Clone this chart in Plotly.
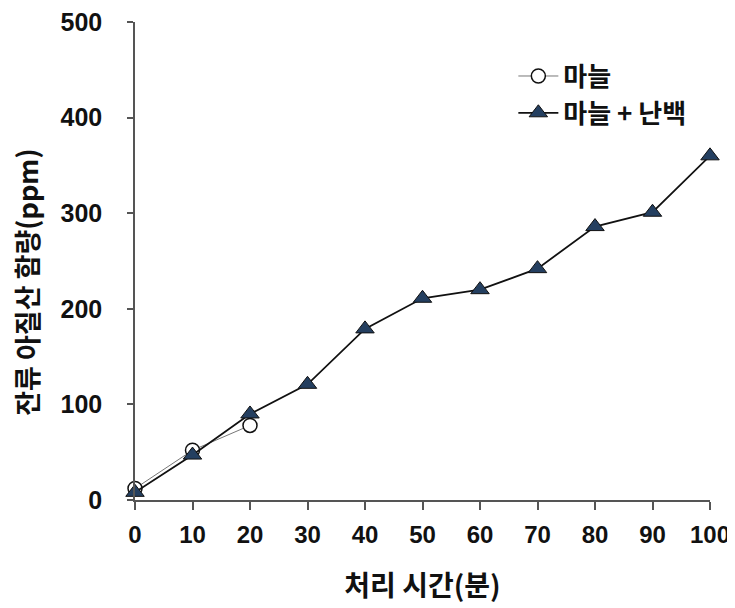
import plotly.graph_objects as go

x_garlic = [0, 10, 20]
y_garlic = [12, 52, 78]

x_mix = [0, 10, 20, 30, 40, 50, 60, 70, 80, 90, 100]
y_mix = [8, 47, 90, 121, 179, 211, 220, 242, 286, 301, 360]

name_garlic = "마늘"
name_mix = "마늘 + 난백"
x_title = "처리 시간(분)"
y_title = "잔류 아질산 함량(ppm)"

x_ticks = [0, 10, 20, 30, 40, 50, 60, 70, 80, 90, 100]
y_ticks = [0, 100, 200, 300, 400, 500]

kr = "Noto Sans CJK KR"
num = "Liberation Sans"

fig = go.Figure()
fig.add_trace(go.Scatter(
    x=x_garlic, y=y_garlic, name=name_garlic, mode="lines+markers", legendgroup="a",
    line=dict(color="#777777", width=1),
    marker=dict(symbol="circle", size=14, color="white", line=dict(color="#111111", width=1.5)),
    cliponaxis=False,
))
fig.add_trace(go.Scatter(
    x=x_mix, y=y_mix, name=name_mix, mode="lines+markers", legendgroup="b",
    line=dict(color="#111111", width=1.8),
    marker=dict(symbol="triangle-up", size=16, color="#243F60", line=dict(color="#111111", width=1)),
    cliponaxis=False,
))

fig.update_layout(
    width=727, height=600,
    margin=dict(l=127, r=25, t=14, b=108, autoexpand=False),
    paper_bgcolor="white", plot_bgcolor="white",
    showlegend=True,
    legend=dict(
        x=0.658, y=0.936, xanchor="left", yanchor="top",
        font=dict(family=kr, size=26, color="#111111", weight="bold"),
        bgcolor="rgba(0,0,0,0)", tracegroupgap=0, itemwidth=40,
    ),
    xaxis=dict(
        range=[0, 100], tickvals=x_ticks, ticktext=[str(v) for v in x_ticks],
        automargin=False, ticklabeloverflow="allow",
        showgrid=False, zeroline=False, showline=True, linecolor="#555555", linewidth=1.5,
        ticks="outside", ticklen=8, tickcolor="#555555", tickwidth=1.5,
        ticklabelstandoff=4,
        tickfont=dict(family=num, size=24, color="#111111", weight="bold"),
        title=dict(text=x_title, font=dict(family=kr, size=28, color="#111111", weight="bold"), standoff=30),
    ),
    yaxis=dict(
        range=[0, 500], tickvals=y_ticks, ticktext=[str(v) for v in y_ticks],
        automargin=False, ticklabeloverflow="allow",
        showgrid=False, zeroline=False, showline=True, linecolor="#555555", linewidth=1.5,
        ticks="outside", ticklen=6, tickcolor="#555555", tickwidth=1.5,
        ticklabelstandoff=20,
        tickfont=dict(family=num, size=25, color="#111111", weight="bold"),
    ),
    annotations=[dict(
        text=y_title, textangle=-90, xref="paper", yref="paper",
        x=-0.19, y=0.456, xanchor="center", yanchor="middle", showarrow=False,
        font=dict(family=kr, size=27, color="#111111", weight="bold"),
    )],
)

fig.write_html("out.html")
